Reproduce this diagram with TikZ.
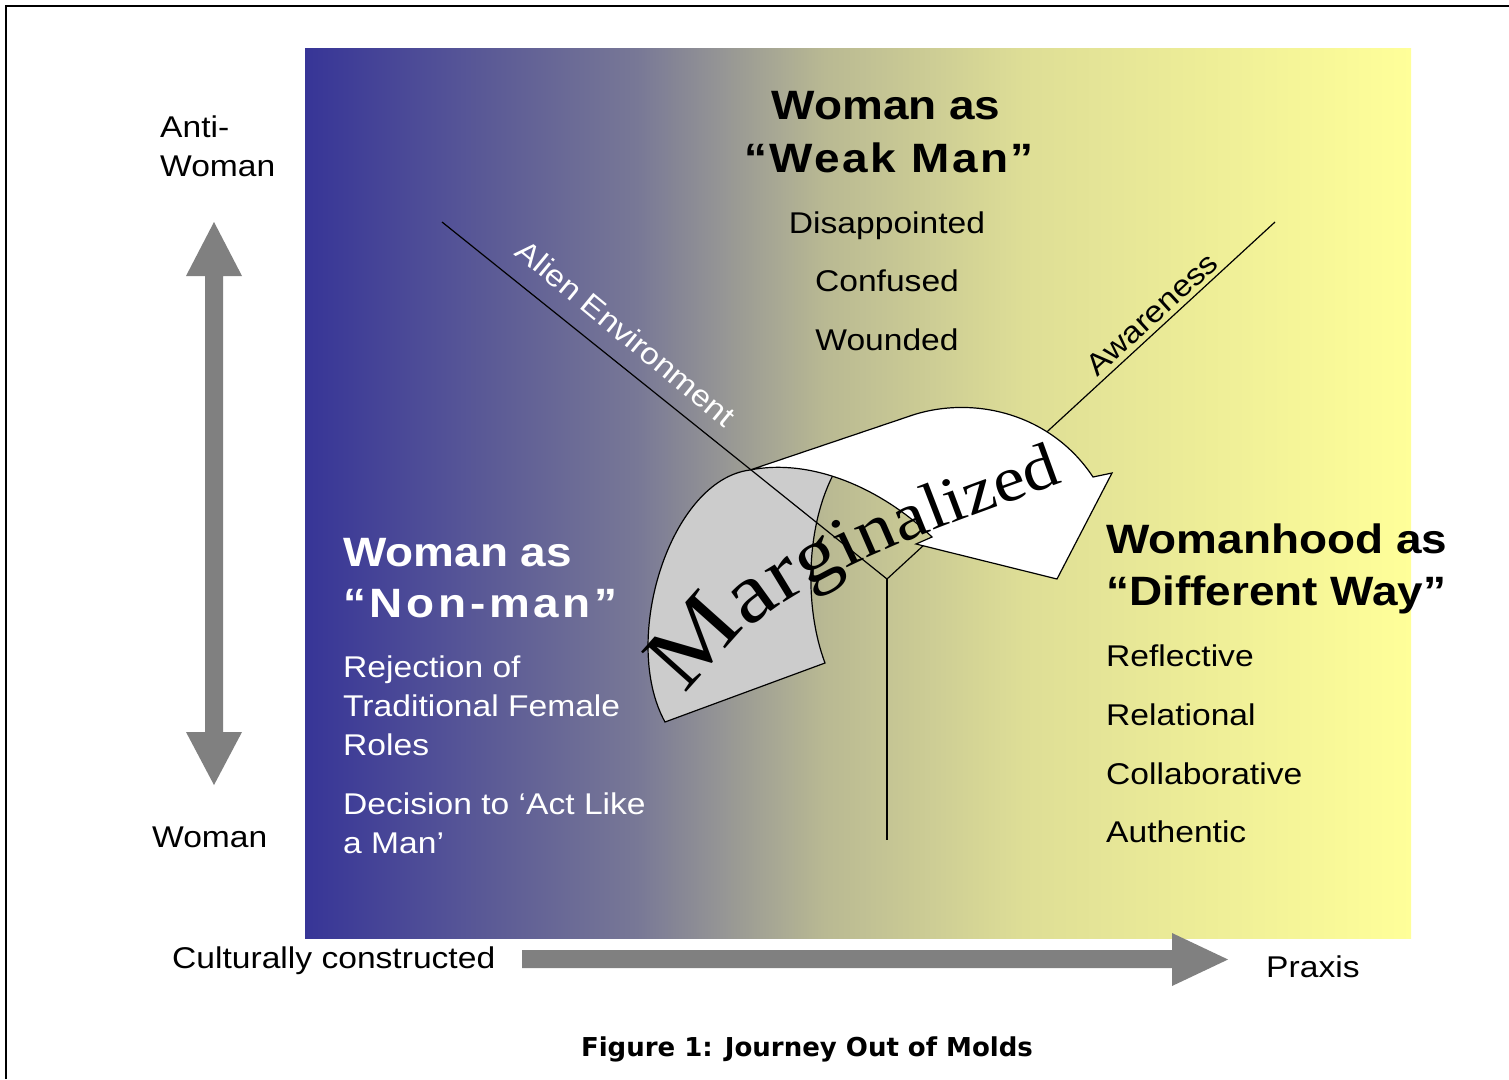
\documentclass[tikz,border=0pt]{standalone}
\usepackage{fontspec}
\setmainfont{Liberation Sans}[FakeStretch=1.12]
\newfontfamily\serf{Liberation Serif}[FakeStretch=1.12]
\newfontfamily\capf{DejaVu Sans}
\usetikzlibrary{decorations.text}
\definecolor{bgA}{RGB}{55,53,151}
\definecolor{bgB}{RGB}{120,120,150}
\definecolor{bgC}{RGB}{185,185,147}
\definecolor{bgD}{RGB}{222,222,150}
\definecolor{bgE}{RGB}{255,255,153}
\definecolor{arrowgray}{RGB}{128,128,128}
\definecolor{backgray}{RGB}{204,204,204}
\pgfdeclarehorizontalshading{bgshade}{100bp}{color(0bp)=(bgA); color(25bp)=(bgA); color(40bp)=(bgB); color(48.5bp)=(bgC); color(57.5bp)=(bgD); color(75bp)=(bgE); color(100bp)=(bgE)}
\newcommand{\mfs}[1]{\serf\fontsize{#1}{#1}\selectfont}
\tikzset{
  body/.style={font=\fontsize{30}{36}\selectfont, inner sep=0pt, anchor=base west},
  bodyc/.style={body, anchor=base},
  head/.style={font=\bfseries\fontsize{41}{48}\selectfont, inner sep=0pt, anchor=base west},
  headc/.style={head, anchor=base},
  guide/.style={line width=1.2pt, draw=black},
  outl/.style={line width=1.2pt, draw=black},
}
\begin{document}
\begin{tikzpicture}[x=1pt,y=-1pt]
\useasboundingbox (0,0) rectangle (1509,1079);
\fill[white] (0,0) rectangle (1509,1079);
% frame
\draw[line width=2.2pt] (6,1079) -- (6,6) -- (1509,6);
% gradient panel
\fill[shading=bgshade] (305,48) rectangle (1411,938);

% back (gray) face of the curved arrow
\fill[backgray] (833,475) -- (835,445) -- (750,470)
  .. controls (670,480) and (620,640) .. (665,722) -- (825,663)
  .. controls (805,610) and (805,530) .. (833,475) -- cycle;
\draw[outl] (750,470) .. controls (670,480) and (620,640) .. (665,722) -- (825,663)
  .. controls (805,610) and (805,530) .. (833,475);

% guide lines (Y)
\coordinate (junc) at (887,579);
\coordinate (aeTop) at (442,222);
\coordinate (awTop) at (1275,222);
\coordinate (vBot) at (887,840);
\draw[guide] (aeTop) -- (junc) -- (awTop);
\draw[guide] (junc) -- (vBot);

% front (white) face of the curved arrow
\filldraw[fill=white, outl, line join=miter] (750,470) -- (907,417)
  .. controls (970,394) and (1050,412) .. (1093,477)
  -- (1112,473) -- (1057,579) -- (916,544) -- (932,537)
  .. controls (880,487) and (810,458) .. (750,470) -- cycle;

% axis arrows
\fill[arrowgray] (214,222) -- (242,276) -- (223,276) -- (223,732) -- (242,732) -- (214,785)
  -- (186,732) -- (205,732) -- (205,276) -- (186,276) -- cycle;
\fill[arrowgray] (522,950) -- (1172,950) -- (1172,933) -- (1228,959.5) -- (1172,986)
  -- (1172,968) -- (522,968) -- cycle;

% axis labels
\node[body] (anti1) at (160,137) {Anti-};
\node[body] (anti2) at (160,176) {Woman};
\node[body] (woman) at (152,847) {Woman};
\node[body] (cult) at (172,968) {Culturally constructed};
\node[body] (praxis) at (1266,977) {Praxis};

% top block
\node[headc] (t1) at (886,119) {Woman as};
\node[headc] (t2) at (889,172) {\addfontfeature{LetterSpace=6}“Weak Man”};
\node[bodyc] (t3) at (887,233) {Disappointed};
\node[bodyc] (t4) at (887,291) {Confused};
\node[bodyc] (t5) at (887,350) {Wounded};

% left block
\begin{scope}[every node/.append style={text=white}]
\node[head] (l1) at (343,566) {Woman as};
\node[head] (l2) at (343,617) {\addfontfeature{LetterSpace=9}“Non-man”};
\node[body] (l3) at (343,677) {Rejection of};
\node[body] (l4) at (343,716) {Traditional Female};
\node[body] (l5) at (343,755) {Roles};
\node[body] (l6) at (343,814) {Decision to ‘Act Like};
\node[body] (l7) at (343,853) {a Man’};
\node[body, anchor=center, rotate=-39.5] (alien) at (626,333) {Alien Environment};
\end{scope}

% right block
\node[head] (r1) at (1106,553) {Womanhood as};
\node[head] (r2) at (1106,605) {“Different Way”};
\node[body] (r3) at (1106,666) {Reflective};
\node[body] (r4) at (1106,725) {Relational};
\node[body] (r5) at (1106,784) {Collaborative};
\node[body] (r6) at (1106,842) {Authentic};

\node[body, anchor=center, rotate=42.4] (aware) at (1152,314) {Awareness};

% Marginalized along a curve, letters shrinking a little
\path[decorate, decoration={text along path, text align=left,
   text={|\mfs{92}|M|\mfs{85}|a|\mfs{80}|r|\mfs{76}|g|\mfs{72}|i|\mfs{69}|n|\mfs{67}|a|\mfs{66}|l|\mfs{65}|i|\mfs{64}|z|\mfs{64}|e|\mfs{64}|d}}]
   (688,697) .. controls (753,584) and (930,532) .. (1075,478);

% caption
\node[inner sep=0pt, anchor=base, font=\capf\bfseries\fontsize{26}{30}\selectfont] (cap) at (807,1056)
  {Figure 1: Journey Out of Molds};
\end{tikzpicture}
\end{document}
